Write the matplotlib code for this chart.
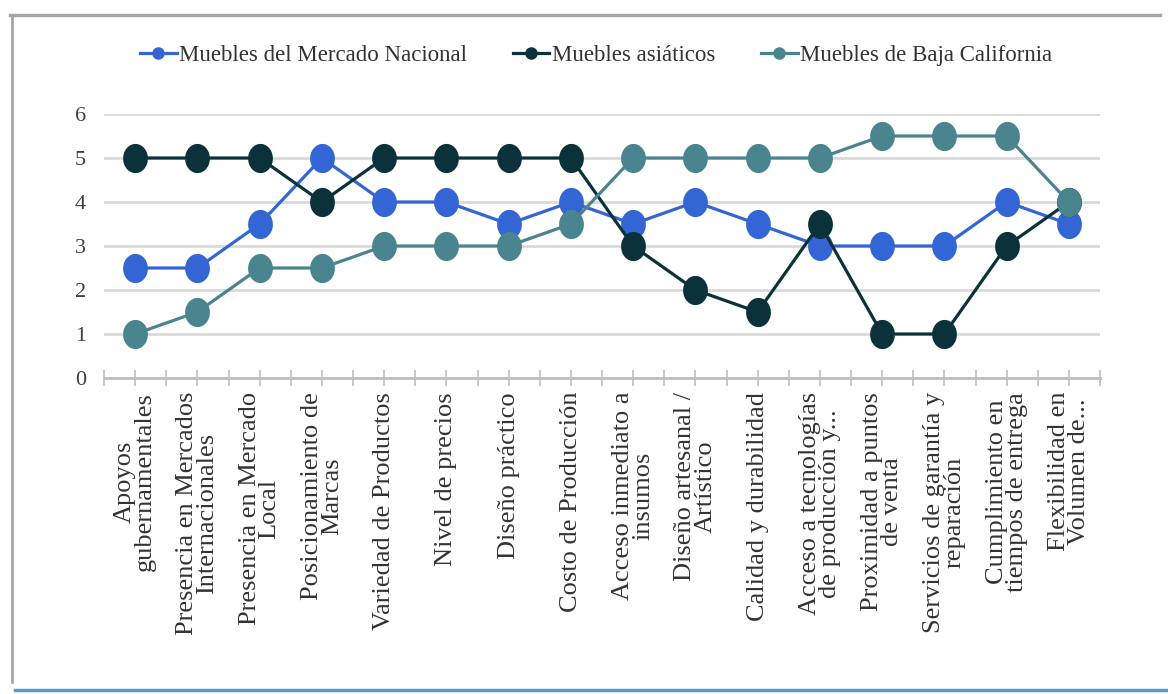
import numpy as np
import matplotlib
matplotlib.use("Agg")
import matplotlib.pyplot as plt
from matplotlib.path import Path
from matplotlib.lines import Line2D

categories = [
    "Apoyos\ngubernamentales",
    "Presencia en Mercados\nInternacionales",
    "Presencia en Mercado\nLocal",
    "Posicionamiento de\nMarcas",
    "Variedad de Productos",
    "Nivel de precios",
    "Diseño práctico",
    "Costo de Producción",
    "Acceso inmediato a\ninsumos",
    "Diseño artesanal /\nArtístico",
    "Calidad y durabilidad",
    "Acceso a tecnologías\nde producción y...",
    "Proximidad a puntos\nde venta",
    "Servicios de garantía y\nreparación",
    "Cumplimiento en\ntiempos de entrega",
    "Flexibilidad en\nVolumen de...",
]

nacional = [2.5, 2.5, 3.5, 5, 4, 4, 3.5, 4, 3.5, 4, 3.5, 3, 3, 3, 4, 3.5]
asiaticos = [5, 5, 5, 4, 5, 5, 5, 5, 3, 2, 1.5, 3.5, 1, 1, 3, 4]
baja_california = [1, 1.5, 2.5, 2.5, 3, 3, 3, 3.5, 5, 5, 5, 5, 5.5, 5.5, 5.5, 4]

series_names = ["Muebles del Mercado Nacional", "Muebles asiáticos",
                "Muebles de Baja California"]
series_values = [nacional, asiaticos, baja_california]
series_colors = ["#3465D4", "#0B323A", "#4A848E"]

y_ticks = [0, 1, 2, 3, 4, 5, 6]

# slightly tall elliptical marker
t = np.linspace(0, 2 * np.pi, 60)
ellipse = Path(np.column_stack([0.85 * np.cos(t), np.sin(t)]), closed=True)

plt.rcParams["font.family"] = ["Liberation Serif", "DejaVu Serif"]

fig = plt.figure(figsize=(11.68, 6.94), dpi=100)
ax = fig.add_axes([104 / 1168, 1 - 378 / 694, 996 / 1168, 264 / 694])

x = np.arange(len(categories))
for name, vals, col in zip(series_names, series_values, series_colors):
    ax.plot(x, vals, color=col, lw=2.3, marker=ellipse, markersize=21,
            markeredgewidth=0, label=name, zorder=3)

ax.set_xlim(-0.5, len(categories) - 0.5)
ax.set_ylim(0, 6)
ax.set_yticks(y_ticks)
ax.set_yticklabels([str(v) for v in y_ticks], fontsize=16, color="#404040")
ax.tick_params(axis="y", length=0, pad=13)

ax.set_xticks(x)
ax.set_xticklabels(categories, rotation=90, fontsize=19, color="#333333",
                   ha="center", va="top", multialignment="center",
                   linespacing=0.88)
ax.set_xticks(np.arange(-0.5, len(categories), 1.0), minor=True)
ax.tick_params(axis="x", which="both", direction="inout", length=12,
               width=1.2, color="#BFBFBF", pad=4)

ax.grid(axis="y", color="#D9D9D9", lw=2)
ax.set_axisbelow(True)
for side in ["top", "right", "left"]:
    ax.spines[side].set_visible(False)
ax.spines["bottom"].set_color("#BFBFBF")
ax.spines["bottom"].set_linewidth(2)

handles = [Line2D([], [], color=c, lw=2.3, marker="o", markersize=9,
                  markeredgewidth=0) for c in series_colors]
fig.legend(handles, series_names, loc="center",
           bbox_to_anchor=(0.5 + 12 / 1168, 1 - 55 / 694),
           ncol=3, frameon=False, fontsize=16.5, handlelength=1.6,
           handletextpad=0.1, columnspacing=2.0, labelcolor="#333333")

# outer frame lines around the chart area
fig.add_artist(Line2D([10 / 1168, 1160 / 1168], [1 - 15 / 694, 1 - 15 / 694],
                      color="#A6A6A6", lw=2.5, transform=fig.transFigure))
fig.add_artist(Line2D([12 / 1168, 12 / 1168], [1 - 15 / 694, 1 - 682 / 694],
                      color="#A6A6A6", lw=2.0, transform=fig.transFigure))
fig.add_artist(Line2D([15 / 1168, 1168 / 1168], [1 - 690 / 694, 1 - 690 / 694],
                      color="#5B9BD5", lw=2.5, transform=fig.transFigure))

fig.savefig("out.png", dpi=100)
